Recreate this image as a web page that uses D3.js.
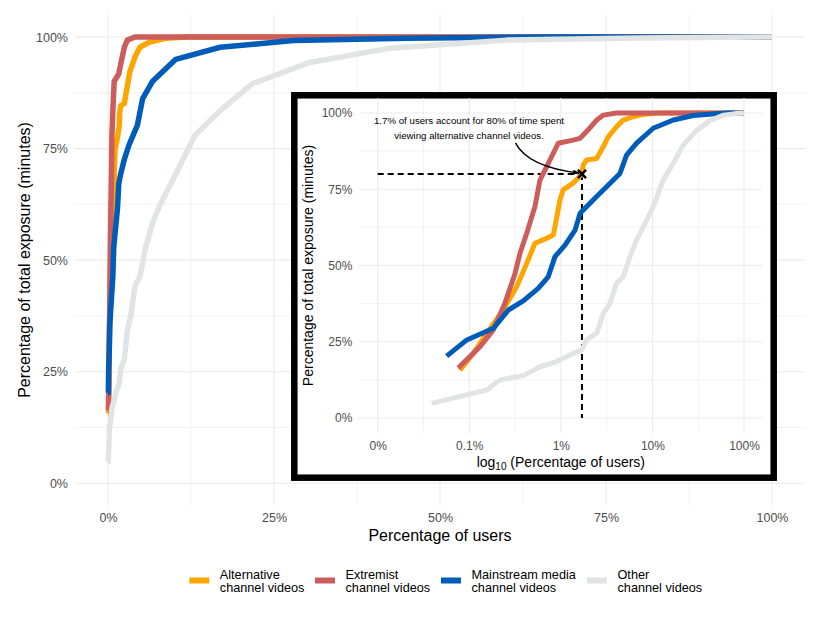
<!DOCTYPE html>
<html>
<head>
<meta charset="utf-8">
<script src="https://cdn.jsdelivr.net/npm/d3@7"></script>
<style>
  body { margin: 0; background: #fff; }
  svg { font-family: "Liberation Sans", Arial, Helvetica, sans-serif; }
</style>
</head>
<body>
<div id="chart-area"></div>
<script>
// series names (legend order = drawing order)
var categories = ["Alternative", "Extremist", "Mainstream media", "Other"];
var colors = ["#FFA500", "#CD5C5C", "#005CB9", "#E1E4E4"];

// percentage of users (cumulative) / percentage of total exposure
var altUsers = [0.079, 0.111, 0.155, 0.235, 0.329, 0.424, 0.521, 0.70, 0.827, 0.863, 0.978, 1.06, 1.36, 1.7, 1.76, 1.91, 2.46, 2.91, 3.29, 4.06, 4.80, 6.17, 8.64, 12, 100];
var altExposure = [15.7, 21.2, 27.8, 35.4, 43.0, 50.7, 57.3, 58.9, 60.0, 62.7, 71.5, 74.8, 77.0, 80, 83.0, 84.6, 85.1, 89.0, 92.2, 95.5, 97.7, 98.8, 99.7, 100, 100];

var extUsers = [0.0758, 0.131, 0.183, 0.245, 0.316, 0.358, 0.424, 0.521, 0.591, 0.70, 0.827, 0.937, 1.36, 1.62, 1.91, 2.46, 2.91, 4.06, 100];
var extExposure = [16.4, 23.4, 28.9, 37.6, 47.4, 54.0, 60.6, 69.3, 78.0, 82.4, 86.8, 90.1, 91.1, 91.7, 93.9, 97.7, 99.3, 100, 100];

var mainUsers = [0.0566, 0.094, 0.183, 0.267, 0.389, 0.566, 0.728, 0.863, 1.11, 1.43, 1.62, 1.91, 2.46, 3.16, 4.42, 5.22, 6.72, 10.2, 16.9, 27.9, 45, 65, 100];
var mainExposure = [20.3, 25.6, 29.4, 35.4, 38.4, 42.5, 46.3, 52.9, 56.7, 61.6, 67.1, 69.3, 72.6, 75.8, 80.2, 86.2, 90.1, 95.0, 97.7, 99.2, 99.7, 100, 100];

var otherUsers = [0.0389, 0.155, 0.216, 0.389, 0.591, 0.90, 1.26, 1.69, 1.91, 2.46, 2.91, 3.44, 4.06, 4.80, 5.68, 6.72, 7.94, 10.2, 13.1, 16.9, 21.7, 30.4, 42.5, 60, 80, 100];
var otherExposure = [4.8, 9.2, 12.5, 13.9, 16.8, 18.5, 20.7, 22.3, 25.6, 27.8, 34.3, 37.6, 44.2, 46.3, 52.9, 58.4, 62.7, 69.3, 78.0, 83.5, 89.5, 94.3, 97.5, 99.3, 99.8, 100];

var mainTicks = [0, 25, 50, 75, 100];
var mainMinor = [12.5, 37.5, 62.5, 87.5];
var insetXTicks = [0.01, 0.1, 1, 10, 100];
var insetXLabels = ["0%", "0.1%", "1%", "10%", "100%"];
var insetXMinor = [0.0316, 0.316, 3.16, 31.6];

// annotation point
var markUsers = 1.7;
var markExposure = 80;

var usersList = [altUsers, extUsers, mainUsers, otherUsers];
var exposureList = [altExposure, extExposure, mainExposure, otherExposure];
var series = categories.map(function(c, i) {
    return {
        name: c,
        color: colors[i],
        values: usersList[i].map(function(u, j) { return { x: u, y: exposureList[i][j] }; })
    };
});

var svg = d3.select('#chart-area')
    .append('svg')
    .attr('width', 822)
    .attr('height', 617);

var grid = "#EBEBEB";
var tickColor = "#4D4D4D";

// ---------- main panel ----------
var panel = {left: 75, right: 805, top: 15, bottom: 505};
var x = d3.scaleLinear().domain([0, 100]).range([108, 772]);
var y = d3.scaleLinear().domain([0, 100]).range([483.3, 37]);

var g = svg.append('g');

g.selectAll('.vminor').data(mainMinor).enter().append('line')
    .attr('x1', d => x(d)).attr('x2', d => x(d))
    .attr('y1', panel.top).attr('y2', panel.bottom)
    .attr('stroke', grid).attr('stroke-width', 0.6);
g.selectAll('.hminor').data(mainMinor).enter().append('line')
    .attr('y1', d => y(d)).attr('y2', d => y(d))
    .attr('x1', panel.left).attr('x2', panel.right)
    .attr('stroke', grid).attr('stroke-width', 0.6);
g.selectAll('.vmajor').data(mainTicks).enter().append('line')
    .attr('x1', d => x(d)).attr('x2', d => x(d))
    .attr('y1', panel.top).attr('y2', panel.bottom)
    .attr('stroke', grid).attr('stroke-width', 1.1);
g.selectAll('.hmajor').data(mainTicks).enter().append('line')
    .attr('y1', d => y(d)).attr('y2', d => y(d))
    .attr('x1', panel.left).attr('x2', panel.right)
    .attr('stroke', grid).attr('stroke-width', 1.1);

var xAxisCall = d3.axisBottom(x).tickValues(mainTicks).tickSize(0).tickPadding(8)
    .tickFormat(d => d + '%');
var xAx = g.append('g').attr('transform', 'translate(0,' + panel.bottom + ')').call(xAxisCall);
xAx.select('.domain').remove();
xAx.selectAll('text').attr('font-size', '12.5px').attr('fill', tickColor).attr('font-family', null);

var yAxisCall = d3.axisLeft(y).tickValues(mainTicks).tickSize(0).tickPadding(7)
    .tickFormat(d => d + '%');
var yAx = g.append('g').attr('transform', 'translate(' + panel.left + ',0)').call(yAxisCall);
yAx.select('.domain').remove();
yAx.selectAll('text').attr('font-size', '12.5px').attr('fill', tickColor).attr('font-family', null);

var line = d3.line().x(d => x(d.x)).y(d => y(d.y));
g.selectAll('.series').data(series).enter().append('path')
    .attr('d', d => line([{x: 0, y: d.values[0].y}].concat(d.values)))
    .attr('fill', 'none')
    .attr('stroke', d => d.color)
    .attr('stroke-width', 5.5)
    .attr('stroke-linejoin', 'round');

g.append('text')
    .attr('x', (panel.left + panel.right) / 2)
    .attr('y', 540.5)
    .attr('text-anchor', 'middle')
    .attr('font-size', '16px')
    .text('Percentage of users');

g.append('text')
    .attr('transform', 'translate(30,' + ((panel.top + panel.bottom) / 2) + ') rotate(-90)')
    .attr('text-anchor', 'middle')
    .attr('font-size', '16px')
    .text('Percentage of total exposure (minutes)');

// ---------- inset ----------
var ip = {left: 359.4, right: 762.3, top: 98, bottom: 433};
var ix = d3.scaleLog().domain([0.01, 100]).range([377.7, 744]);
var iy = d3.scaleLinear().domain([0, 100]).range([418, 113]);

var ig = svg.append('g');
ig.append('rect')
    .attr('x', 294.3).attr('y', 95.3)
    .attr('width', 479.4).attr('height', 382.4)
    .attr('fill', '#fff')
    .attr('stroke', '#000')
    .attr('stroke-width', 6.5);

ig.selectAll('.ivminor').data(insetXMinor).enter().append('line')
    .attr('x1', d => ix(d)).attr('x2', d => ix(d))
    .attr('y1', ip.top).attr('y2', ip.bottom)
    .attr('stroke', grid).attr('stroke-width', 0.6);
ig.selectAll('.ihminor').data(mainMinor).enter().append('line')
    .attr('y1', d => iy(d)).attr('y2', d => iy(d))
    .attr('x1', ip.left).attr('x2', ip.right)
    .attr('stroke', grid).attr('stroke-width', 0.6);
ig.selectAll('.ivmajor').data(insetXTicks).enter().append('line')
    .attr('x1', d => ix(d)).attr('x2', d => ix(d))
    .attr('y1', ip.top).attr('y2', ip.bottom)
    .attr('stroke', grid).attr('stroke-width', 1.1);
ig.selectAll('.ihmajor').data(mainTicks).enter().append('line')
    .attr('y1', d => iy(d)).attr('y2', d => iy(d))
    .attr('x1', ip.left).attr('x2', ip.right)
    .attr('stroke', grid).attr('stroke-width', 1.1);

var ixAxisCall = d3.axisBottom(ix).tickValues(insetXTicks).tickSize(0).tickPadding(8)
    .tickFormat((d, i) => insetXLabels[i]);
var ixAx = ig.append('g').attr('transform', 'translate(0,' + ip.bottom + ')').call(ixAxisCall);
ixAx.select('.domain').remove();
ixAx.selectAll('text').attr('font-size', '12px').attr('fill', tickColor).attr('font-family', null);

var iyAxisCall = d3.axisLeft(iy).tickValues(mainTicks).tickSize(0).tickPadding(7)
    .tickFormat(d => d + '%');
var iyAx = ig.append('g').attr('transform', 'translate(' + ip.left + ',0)').call(iyAxisCall);
iyAx.select('.domain').remove();
iyAx.selectAll('text').attr('font-size', '12px').attr('fill', tickColor).attr('font-family', null);

var iline = d3.line().x(d => ix(d.x)).y(d => iy(d.y));

// dashed guides to the marked point
ig.append('line')
    .attr('x1', ix(0.01)).attr('x2', ix(markUsers))
    .attr('y1', iy(markExposure)).attr('y2', iy(markExposure))
    .attr('stroke', '#000').attr('stroke-width', 2).attr('stroke-dasharray', '6,4');
ig.append('line')
    .attr('x1', ix(markUsers)).attr('x2', ix(markUsers))
    .attr('y1', iy(markExposure)).attr('y2', iy(0))
    .attr('stroke', '#000').attr('stroke-width', 2).attr('stroke-dasharray', '6,4');

ig.selectAll('.iseries').data(series).enter().append('path')
    .attr('d', d => iline(d.values))
    .attr('fill', 'none')
    .attr('stroke', d => d.color)
    .attr('stroke-width', 5)
    .attr('stroke-linejoin', 'round');

// cross marker
var mx = ix(markUsers), my = iy(markExposure);
ig.append('path')
    .attr('d', d3.symbol().type(d3.symbolX).size(45)())
    .attr('transform', 'translate(' + mx + ',' + my + ')')
    .attr('fill', 'none')
    .attr('stroke', '#000')
    .attr('stroke-width', 2.5);

// annotation
var note = ig.append('text')
    .attr('text-anchor', 'middle')
    .attr('font-size', '9.7px')
    .attr('fill', '#000');
note.append('tspan').attr('x', 469).attr('y', 124).text('1.7% of users account for 80% of time spent');
note.append('tspan').attr('x', 469).attr('y', 138.5).text('viewing alternative channel videos.');

svg.append('defs').append('marker')
    .attr('id', 'arrow')
    .attr('viewBox', '0 0 10 10')
    .attr('refX', 9).attr('refY', 5)
    .attr('markerWidth', 4).attr('markerHeight', 4)
    .attr('orient', 'auto')
    .append('path').attr('d', 'M0,1 L10,5 L0,9 Z').attr('fill', '#000');

ig.append('path')
    .attr('d', 'M515.5,143 Q528,167 ' + (mx - 3) + ',' + (my - 1))
    .attr('fill', 'none')
    .attr('stroke', '#000')
    .attr('stroke-width', 1.6)
    .attr('marker-end', 'url(#arrow)');

// inset titles
var ixt = ig.append('text')
    .attr('x', (ip.left + ip.right) / 2)
    .attr('y', 467)
    .attr('text-anchor', 'middle')
    .attr('font-size', '14px');
ixt.append('tspan').text('log');
ixt.append('tspan').attr('font-size', '10px').attr('dy', 3).text('10');
ixt.append('tspan').attr('dy', -3).text(' (Percentage of users)');

ig.append('text')
    .attr('transform', 'translate(313,' + ((ip.top + ip.bottom) / 2) + ') rotate(-90)')
    .attr('text-anchor', 'middle')
    .attr('font-size', '14px')
    .text('Percentage of total exposure (minutes)');

// ---------- legend ----------
var legendX = [189.3, 315, 441, 587];
var lg = svg.append('g');
var items = lg.selectAll('.item').data(series).enter().append('g')
    .attr('transform', (d, i) => 'translate(' + legendX[i] + ',0)');
items.append('rect')
    .attr('x', 0).attr('y', 577.5)
    .attr('width', 20).attr('height', 6)
    .attr('fill', d => d.color);
var lt = items.append('text').attr('font-size', '12.7px').attr('fill', '#000');
lt.append('tspan').attr('x', 30.5).attr('y', 578.6).text(d => d.name);
lt.append('tspan').attr('x', 30.5).attr('y', 592).text('channel videos');
</script>
</body>
</html>
